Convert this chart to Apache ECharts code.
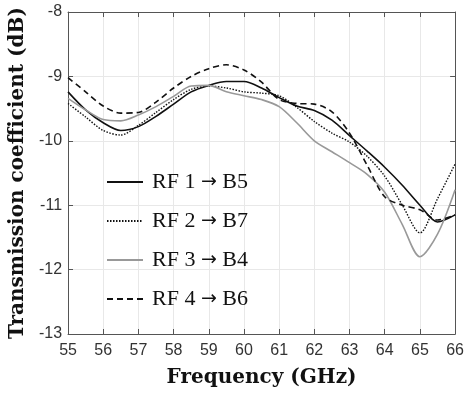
<!DOCTYPE html>
<html>
<head>
<meta charset="utf-8">
<script src="https://cdn.jsdelivr.net/npm/echarts@6/dist/echarts.min.js"></script>
<style>
html,body{margin:0;padding:0;background:#fff;}
#chart{width:467px;height:393px;}
</style>
</head>
<body>
<div id="chart"></div>
<script>
// Frequency samples (GHz)
var freq = [55, 55.5, 56, 56.5, 57, 57.5, 58, 58.5, 59, 59.5, 60, 60.5, 61, 61.5, 62, 62.5, 63, 63.5, 64, 64.5, 65, 65.5, 66];
// Transmission coefficient (dB)
var rf1b5 = [-9.24, -9.52, -9.72, -9.84, -9.78, -9.62, -9.43, -9.24, -9.14, -9.08, -9.08, -9.18, -9.33, -9.46, -9.53, -9.68, -9.92, -10.16, -10.41, -10.69, -11.0, -11.26, -11.15];
var rf2b7 = [-9.42, -9.63, -9.84, -9.91, -9.76, -9.56, -9.36, -9.2, -9.15, -9.18, -9.24, -9.26, -9.3, -9.48, -9.7, -9.88, -10.02, -10.24, -10.55, -11.0, -11.43, -10.9, -10.36];
var rf3b4 = [-9.34, -9.52, -9.67, -9.69, -9.6, -9.47, -9.31, -9.15, -9.14, -9.24, -9.3, -9.36, -9.47, -9.72, -10.0, -10.17, -10.34, -10.52, -10.8, -11.3, -11.8, -11.45, -10.76];
var rf4b6 = [-9.02, -9.24, -9.46, -9.57, -9.56, -9.4, -9.18, -9.0, -8.88, -8.82, -8.9, -9.09, -9.36, -9.42, -9.43, -9.55, -9.88, -10.38, -10.87, -11.0, -11.07, -11.23, -11.15];
var seriesNames = ['RF 1 \u2192 B5', 'RF 2 \u2192 B7', 'RF 3 \u2192 B4', 'RF 4 \u2192 B6'];
var xTicks = [55, 66, 1];
var yTicks = [-13, -8, 1];

function pairs(vals){ return freq.map(function(f,i){ return [f, vals[i]]; }); }

var chart = echarts.init(document.getElementById('chart'), null, {renderer:'canvas'});
var axisCol = '#555';
var gridCol = '#e8e8e8';
var tickFont = {fontFamily:'Liberation Sans, Arial, sans-serif', fontSize:16, color:'#333'};

function mkSeries(name, vals, color, type, width){
  return {
    name: name, type:'line', data: pairs(vals), symbol:'none', smooth:0.3,
    xAxisIndex:0, yAxisIndex:0,
    lineStyle:{color:color, type:type, width:width},
    itemStyle:{color:color}
  };
}

var serif = 'Liberation Serif, Times New Roman, serif';
var option = {
  animation:false,
  backgroundColor:'#fff',
  grid:{left:68, right:9, top:12, bottom:59},
  legend:{
    orient:'vertical', left:101, top:166,
    itemWidth:36, itemHeight:14, itemGap:17,
    itemStyle:{opacity:0},
    formatter:function(n){
      var p = n.split(' \u2192 ');
      return '{t|' + p[0] + ' }{a|\u2192}{t| ' + p[1] + '}';
    },
    textStyle:{
      fontFamily:serif, fontSize:22, color:'#111', lineHeight:22, padding:[0,0,0,4],
      rich:{
        t:{fontFamily:serif, fontSize:22, color:'#111', lineHeight:22},
        a:{fontFamily:'DejaVu Sans, sans-serif', fontSize:19, color:'#111', lineHeight:22}
      }
    },
    data: seriesNames
  },
  xAxis:[{
    type:'value', min:xTicks[0], max:xTicks[1], interval:xTicks[2],
    name:'Frequency (GHz)', nameLocation:'middle', nameGap:34,
    nameTextStyle:{fontFamily:'DejaVu Serif, serif', fontWeight:'bold', fontSize:20, color:'#111'},
    axisLine:{show:true, onZero:false, lineStyle:{color:axisCol, width:1}},
    axisTick:{show:true, inside:true, length:5, lineStyle:{color:axisCol}},
    axisLabel:Object.assign({margin:9}, tickFont),
    splitLine:{show:true, lineStyle:{color:gridCol, width:1}}
  },{
    type:'value', position:'top', min:xTicks[0], max:xTicks[1], interval:xTicks[2],
    axisLine:{show:true, onZero:false, lineStyle:{color:axisCol, width:1}},
    axisTick:{show:true, inside:true, length:5, lineStyle:{color:axisCol}},
    axisLabel:{show:false}, splitLine:{show:false}
  }],
  yAxis:[{
    type:'value', min:yTicks[0], max:yTicks[1], interval:yTicks[2],
    name:'Transmission coefficient (dB)', nameLocation:'middle', nameGap:40, nameRotate:90,
    nameTextStyle:{fontFamily:'DejaVu Serif, serif', fontWeight:'bold', fontSize:20, color:'#111'},
    axisLine:{show:true, onZero:false, lineStyle:{color:axisCol, width:1}},
    axisTick:{show:true, inside:true, length:5, lineStyle:{color:axisCol}},
    axisLabel:Object.assign({margin:6}, tickFont),
    splitLine:{show:true, lineStyle:{color:gridCol, width:1}}
  },{
    type:'value', position:'right', min:yTicks[0], max:yTicks[1], interval:yTicks[2],
    axisLine:{show:true, onZero:false, lineStyle:{color:axisCol, width:1}},
    axisTick:{show:true, inside:true, length:5, lineStyle:{color:axisCol}},
    axisLabel:{show:false}, splitLine:{show:false}
  }],
  series:[
    mkSeries(seriesNames[0], rf1b5, '#111', 'solid', 1.6),
    mkSeries(seriesNames[1], rf2b7, '#111', [1.5,1.5], 1.4),
    mkSeries(seriesNames[2], rf3b4, '#999', 'solid', 1.6),
    mkSeries(seriesNames[3], rf4b6, '#111', [6,4], 1.6)
  ]
};
chart.setOption(option);
</script>
</body>
</html>
